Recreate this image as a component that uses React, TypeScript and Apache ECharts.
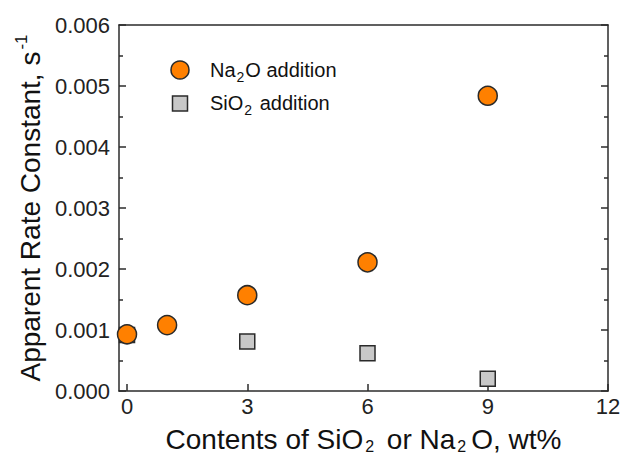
import React, { useEffect, useRef } from "react";
import * as echarts from "echarts";

const na2oX = [0, 1, 3, 6, 9];
const na2oY = [0.00093, 0.00108, 0.00157, 0.00211, 0.00484];
const sio2X = [0, 3, 6, 9];
const sio2Y = [0.00092, 0.00081, 0.00062, 0.0002];
const xTicks = [0, 3, 6, 9, 12];

const FONT = "Liberation Sans, Arial, sans-serif";
const AX = "#2b2b2b";

export default function App() {
  const ref = useRef<HTMLDivElement>(null);
  useEffect(() => {
    const chart = echarts.init(ref.current!, null, { renderer: "svg" });
    const axisCommon = {
      axisLine: { show: true, onZero: false, lineStyle: { color: AX, width: 1.5 } },
      axisTick: { show: true, inside: true, length: 7, lineStyle: { color: AX, width: 1.5 } },
      minorTick: { show: true, splitNumber: 2, length: 4, lineStyle: { color: AX, width: 1.5 } },
      splitLine: { show: false },
    };
    const sub = { fontSize: 16, fontFamily: FONT, color: "#111", padding: [13, 5, 0, 2] };
    chart.setOption({
      animation: false,
      backgroundColor: "#fff",
      grid: { left: 119, right: 25, top: 25, bottom: 69, outerBoundsMode: "none", containLabel: false },
      xAxis: [
        {
          type: "value",
          min: -0.2,
          max: 12,
          interval: 3,
          ...axisCommon,
          axisLabel: {
            color: "#222",
            fontSize: 22,
            fontFamily: FONT,
            margin: 4,
            customValues: xTicks,
            formatter: (v: number) => String(v),
          },
          axisTick: { ...axisCommon.axisTick, customValues: xTicks },
          minorTick: { show: false },
          name: "Contents of SiO{sub|2} or Na{sub|2}O, wt%",
          nameLocation: "middle",
          nameGap: 34,
          nameTextStyle: {
            fontSize: 28,
            fontFamily: FONT,
            color: "#111",
            rich: { sub },
          },
        },
        {
          type: "value",
          position: "top",
          min: -0.2,
          max: 12,
          ...axisCommon,
          axisLabel: { show: false },
          axisTick: { show: false },
          minorTick: { show: false },
        },
      ],
      yAxis: [
        {
          type: "value",
          min: 0,
          max: 0.006,
          interval: 0.001,
          ...axisCommon,
          axisLabel: {
            color: "#222",
            fontSize: 22,
            fontFamily: FONT,
            margin: 9,
            formatter: (v: number) => v.toFixed(3),
          },
          name: "Apparent Rate Constant, s{sup|-1}",
          nameLocation: "middle",
          nameGap: 71,
          nameRotate: 90,
          nameTextStyle: {
            fontSize: 28,
            fontFamily: FONT,
            color: "#111",
            rich: {
              sup: { fontSize: 17, fontFamily: FONT, color: "#111", padding: [0, 0, 18, 2] },
            },
          },
        },
        {
          type: "value",
          position: "right",
          min: 0,
          max: 0.006,
          interval: 0.001,
          ...axisCommon,
          axisLabel: { show: false },
        },
      ],
      series: [
        {
          type: "scatter",
          name: "SiO2 addition",
          symbol: "rect",
          symbolSize: 15,
          itemStyle: { color: "#c8c8c8", borderColor: "#2a2a2a", borderWidth: 1.5, opacity: 1 },
          data: sio2X.map((x, i) => [x, sio2Y[i]]),
          z: 2,
        },
        {
          type: "scatter",
          name: "Na2O addition",
          symbol: "circle",
          symbolSize: 19,
          itemStyle: { color: "#ff8000", borderColor: "#2a2a2a", borderWidth: 1.5, opacity: 1 },
          data: na2oX.map((x, i) => [x, na2oY[i]]),
          z: 3,
        },
      ],
      graphic: [
        {
          type: "circle",
          shape: { cx: 180, cy: 70, r: 9 },
          style: { fill: "#ff8000", stroke: "#2a2a2a", lineWidth: 1.5 },
        },
        {
          type: "rect",
          shape: { x: 172.5, y: 96, width: 15, height: 15 },
          style: { fill: "#c8c8c8", stroke: "#2a2a2a", lineWidth: 1.5 },
        },
        {
          type: "text",
          x: 210,
          y: 70,
          style: {
            text: "Na{sub|2}O addition",
            fontSize: 20,
            fontFamily: FONT,
            fill: "#111",
            verticalAlign: "middle",
            rich: { sub: { fontSize: 14, fontFamily: FONT, fill: "#111", padding: [14, 1, 0, 1] } },
          },
        },
        {
          type: "text",
          x: 210,
          y: 103,
          style: {
            text: "SiO{sub|2} addition",
            fontSize: 20,
            fontFamily: FONT,
            fill: "#111",
            verticalAlign: "middle",
            rich: { sub: { fontSize: 14, fontFamily: FONT, fill: "#111", padding: [14, 2, 0, 1] } },
          },
        },
      ],
    });
    return () => chart.dispose();
  }, []);
  return (
    <div
      ref={ref}
      style={{ position: "fixed", left: 0, top: 0, width: 633, height: 460, background: "#fff" }}
    />
  );
}
